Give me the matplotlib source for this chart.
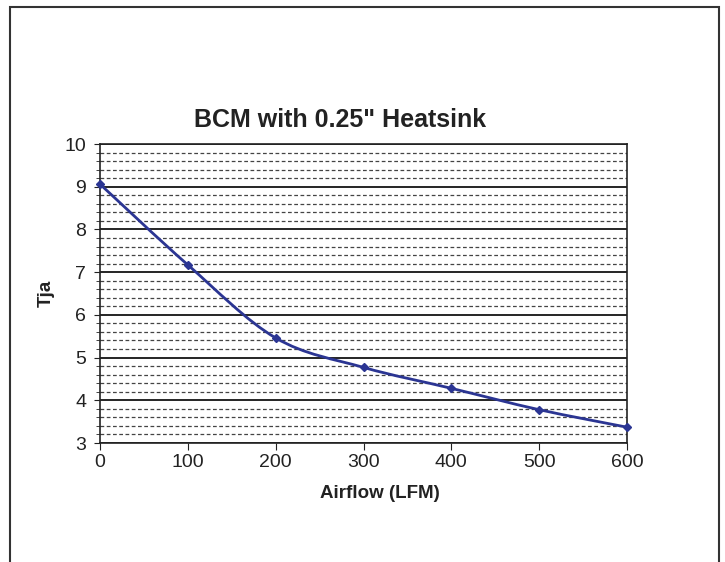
import matplotlib
matplotlib.use("Agg")
import matplotlib.pyplot as plt
import numpy as np
from matplotlib.path import Path
from matplotlib.patches import PathPatch, Rectangle

plt.rcParams['font.family'] = ['Liberation Sans', 'DejaVu Sans']

# data
airflow = [0, 100, 200, 300, 400, 500, 600]
tja = [9.06, 7.17, 5.46, 4.77, 4.28, 3.78, 3.37]
title = 'BCM with 0.25" Heatsink'
xlabel = 'Airflow (LFM)'
ylabel = 'Tja'

line_color = '#2b3593'

fig = plt.figure(figsize=(7.25, 5.62), dpi=100)
ax = fig.add_axes([100/725, 1-443/562, 527/725, 299/562])

# outer chart border (bottom cut off)
fig.patches.append(Rectangle((10/725, -0.05), 709/725, 1.05-7/562,
                             transform=fig.transFigure, fill=False,
                             edgecolor='#333333', linewidth=1.5))

# smoothed line like excel: bezier segments through the points
x = np.array(airflow, dtype=float)
y = np.array(tja, dtype=float)
pts = np.column_stack([x, y])
n = len(pts)
verts = [pts[0]]
codes = [Path.MOVETO]
for i in range(n-1):
    p0 = pts[max(i-1, 0)]
    p1 = pts[i]
    p2 = pts[i+1]
    p3 = pts[min(i+2, n-1)]
    c1 = p1 + (p2 - p0)/6
    c2 = p2 - (p3 - p1)/6
    verts += [c1, c2, p2]
    codes += [Path.CURVE4]*3
ax.add_patch(PathPatch(Path(verts, codes), fill=False, edgecolor=line_color,
                       linewidth=2, zorder=3, clip_on=False))
ax.plot(x, y, linestyle='none', marker='D', markersize=4.5, color=line_color,
        zorder=4, clip_on=False)

ax.set_xlim(0, 600)
ax.set_ylim(3, 10)
ax.set_xticks(range(0, 601, 100))
ax.set_yticks(range(3, 11))
ax.set_yticks(np.arange(3, 10.01, 0.2), minor=True)
ax.grid(which='major', axis='y', color='black', linewidth=1.2, linestyle='-')
ax.grid(which='minor', axis='y', color='#444444', linewidth=0.9, linestyle=(0, (3, 2)))
ax.set_axisbelow(True)
for s in ax.spines.values():
    s.set_color('#222222')
    s.set_linewidth(1.2)
ax.tick_params(axis='x', which='major', direction='out', length=5, labelsize=14,
               colors='#222222', pad=3)
ax.tick_params(axis='y', which='major', direction='out', length=4, labelsize=14,
               colors='#222222', pad=6)
ax.tick_params(axis='y', which='minor', direction='out', length=3, color='#222222')

ax.set_title(title, fontsize=18, fontweight='bold', pad=12, color='#222222',
             x=(340-100)/527)
ax.set_xlabel(xlabel, fontsize=13.5, fontweight='bold', labelpad=10, color='#222222',
              x=(380-100)/527)
ax.set_ylabel(ylabel, fontsize=13.5, fontweight='bold', labelpad=7, color='#222222')

fig.savefig('out.png', dpi=100)
